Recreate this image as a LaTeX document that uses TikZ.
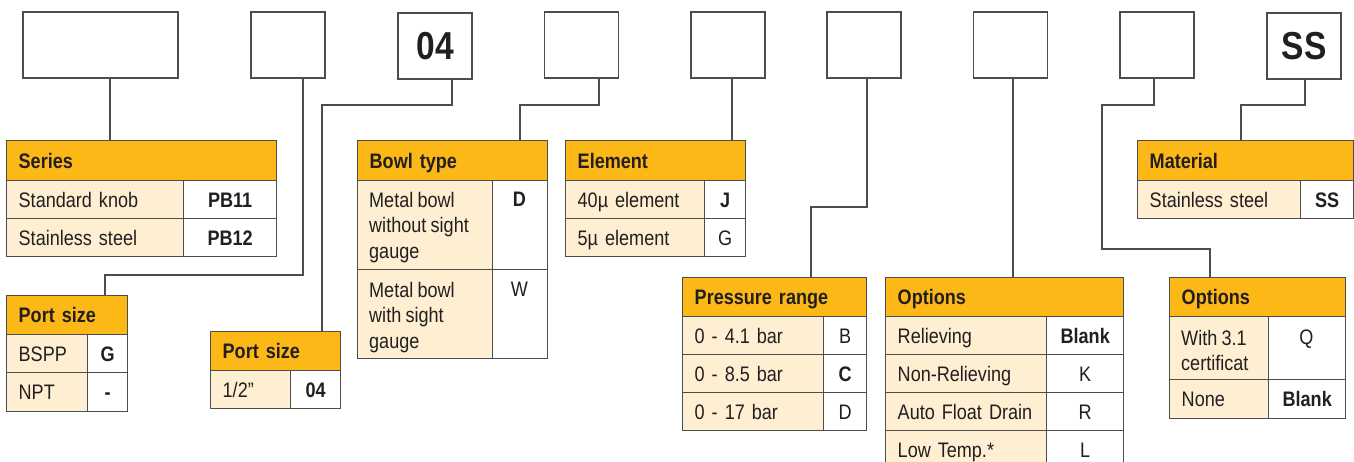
\documentclass[tikz,border=0pt]{standalone}
\usepackage{fontspec}
\setmainfont[FakeStretch=0.86,WordSpace=0.85]{Liberation Sans}
\definecolor{hdr}{HTML}{FBB817}
\definecolor{crm}{HTML}{FEEFD3}
\definecolor{ln}{HTML}{4D4D4D}
\definecolor{txt}{HTML}{231F20}
\tikzset{
  cellbase/.style={draw=ln, line width=1.4pt, inner sep=0pt, anchor=north west, text=txt, font=\fontsize{21}{25.5}\selectfont},
  topbox/.style={draw=ln, line width=1.5pt, minimum width=74pt, minimum height=66pt, inner sep=0pt, text=txt, font=\bfseries\fontsize{39}{40}\selectfont},
  hd/.style={cellbase, fill=hdr, font=\bfseries\fontsize{21}{25.5}\selectfont, align=left, inner xsep=12pt, text height=15pt, text depth=0pt},
  lb/.style={cellbase, fill=crm, align=left, inner xsep=12pt, text height=15pt, text depth=0pt},
  cd/.style={cellbase, fill=white, align=center, text height=15pt, text depth=0pt},
  mltext/.style={anchor=north west, inner sep=0pt, align=left, text=txt, font=\fontsize{21}{25.5}\selectfont},
  toptext/.style={anchor=north, inner sep=0pt, text=txt, font=\fontsize{21}{25.5}\selectfont},
  conn/.style={draw=ln, line width=1.5pt},
}
\begin{document}
\begin{tikzpicture}[x=1pt,y=-1pt]
\path[use as bounding box] (0,0) rectangle (1354,461);
\clip (0,0) rectangle (1354,461);

% top code boxes
\node[topbox, minimum width=155pt] (b1) at (100.5,45) {};
\node[topbox] (b2) at (288,45) {};
\node[topbox] (b3) at (435,46) {04};
\node[topbox] (b4) at (581.5,45) {};
\node[topbox] (b5) at (728,45) {};
\node[topbox] (b6) at (864,45) {};
\node[topbox] (b7) at (1010.5,45) {};
\node[topbox] (b8) at (1157,45) {};
\node[topbox] (b9) at (1304,46) {SS};

% Series
\node[hd, minimum width=270pt, minimum height=40pt, text width=246pt] (t1h) at (6,140) {Series};
\node[lb, minimum width=177pt, minimum height=38pt, text width=153pt] (t1l1) at (6,180) {Standard knob};
\node[cd, minimum width=93pt, minimum height=38pt] (t1c1) at (183,180) {\bfseries PB11};
\node[lb, minimum width=177pt, minimum height=38pt, text width=153pt] (t1l2) at (6,218) {Stainless steel};
\node[cd, minimum width=93pt, minimum height=38pt] (t1c2) at (183,218) {\bfseries PB12};

% Port size 1
\node[hd, minimum width=121pt, minimum height=39pt, text width=97pt] (t2h) at (6,295) {Port size};
\node[lb, minimum width=81pt, minimum height=38pt, text width=57pt] (t2l1) at (6,334) {BSPP};
\node[cd, minimum width=40pt, minimum height=38pt] (t2c1) at (87,334) {\bfseries G};
\node[lb, minimum width=81pt, minimum height=39pt, text width=57pt] (t2l2) at (6,372) {NPT};
\node[cd, minimum width=40pt, minimum height=39pt] (t2c2) at (87,372) {\bfseries -};

% Port size 2
\node[hd, minimum width=130pt, minimum height=39pt, text width=106pt] (t3h) at (210,331) {Port size};
\node[lb, minimum width=80pt, minimum height=38pt, text width=56pt] (t3l1) at (210,370) {1/2{\char34}};
\node[cd, minimum width=50pt, minimum height=38pt] (t3c1) at (290,370) {\bfseries 04};

% Bowl type
\node[hd, minimum width=190pt, minimum height=40pt, text width=166pt] (t4h) at (357,140) {Bowl type};
\node[lb, minimum width=135pt, minimum height=89pt] (t4l1) at (357,180) {};
\node[cd, minimum width=55pt, minimum height=89pt] (t4c1) at (492,180) {};
\node[lb, minimum width=135pt, minimum height=89pt] (t4l2) at (357,269) {};
\node[cd, minimum width=55pt, minimum height=89pt] (t4c2) at (492,269) {};
\node[mltext] (t4x1) at (369,192) {Metal bowl\\without sight\\gauge};
\node[toptext] (t4y1) at (519.5,192) {\bfseries D};
\node[mltext] (t4x2) at (369,282) {Metal bowl\\with sight\\gauge};
\node[toptext] (t4y2) at (519.5,282) {W};

% Element
\node[hd, minimum width=180pt, minimum height=40pt, text width=156pt] (t5h) at (565,140) {Element};
\node[lb, minimum width=139pt, minimum height=38pt, text width=115pt] (t5l1) at (565,180) {40µ element};
\node[cd, minimum width=41pt, minimum height=38pt] (t5c1) at (704,180) {\bfseries J};
\node[lb, minimum width=139pt, minimum height=38pt, text width=115pt] (t5l2) at (565,218) {5µ element};
\node[cd, minimum width=41pt, minimum height=38pt] (t5c2) at (704,218) {G};

% Pressure range
\node[hd, minimum width=184pt, minimum height=39pt, text width=160pt] (t6h) at (682,277) {Pressure range};
\node[lb, minimum width=141pt, minimum height=38pt, text width=117pt] (t6l1) at (682,316) {0 - 4.1 bar};
\node[cd, minimum width=43pt, minimum height=38pt] (t6c1) at (823,316) {B};
\node[lb, minimum width=141pt, minimum height=38pt, text width=117pt] (t6l2) at (682,354) {0 - 8.5 bar};
\node[cd, minimum width=43pt, minimum height=38pt] (t6c2) at (823,354) {\bfseries C};
\node[lb, minimum width=141pt, minimum height=38pt, text width=117pt] (t6l3) at (682,392) {0 - 17 bar};
\node[cd, minimum width=43pt, minimum height=38pt] (t6c3) at (823,392) {D};

% Options
\node[hd, minimum width=238pt, minimum height=39pt, text width=214pt] (t7h) at (885,277) {Options};
\node[lb, minimum width=161pt, minimum height=38pt, text width=137pt] (t7l1) at (885,316) {Relieving};
\node[cd, minimum width=77pt, minimum height=38pt] (t7c1) at (1046,316) {\bfseries Blank};
\node[lb, minimum width=161pt, minimum height=38pt, text width=137pt] (t7l2) at (885,354) {Non-Relieving};
\node[cd, minimum width=77pt, minimum height=38pt] (t7c2) at (1046,354) {K};
\node[lb, minimum width=161pt, minimum height=38pt, text width=137pt] (t7l3) at (885,392) {Auto Float Drain};
\node[cd, minimum width=77pt, minimum height=38pt] (t7c3) at (1046,392) {R};
\node[lb, minimum width=161pt, minimum height=38pt, text width=137pt] (t7l4) at (885,430) {Low Temp.*};
\node[cd, minimum width=77pt, minimum height=38pt] (t7c4) at (1046,430) {L};

% Options 2
\node[hd, minimum width=176pt, minimum height=39pt, text width=152pt] (t8h) at (1169,277) {Options};
\node[lb, minimum width=99pt, minimum height=63pt] (t8l1) at (1169,316) {};
\node[cd, minimum width=77pt, minimum height=63pt] (t8c1) at (1268,316) {};
\node[mltext] (t8x1) at (1181,330) {With 3.1\\certificat};
\node[toptext] (t8y1) at (1306.5,330) {Q};
\node[lb, minimum width=99pt, minimum height=39pt, text width=75pt] (t8l2) at (1169,379) {None};
\node[cd, minimum width=77pt, minimum height=39pt] (t8c2) at (1268,379) {\bfseries Blank};

% Material
\node[hd, minimum width=216pt, minimum height=40pt, text width=192pt] (t9h) at (1137,140) {Material};
\node[lb, minimum width=163pt, minimum height=38pt, text width=139pt] (t9l1) at (1137,180) {Stainless steel};
\node[cd, minimum width=53pt, minimum height=38pt] (t9c1) at (1300,180) {\bfseries SS};

% connector bend points
\coordinate (k1) at (110,0);
\coordinate (k2a) at (303,275);
\coordinate (k2b) at (105,275);
\coordinate (k3a) at (452,105);
\coordinate (k3b) at (322,105);
\coordinate (k4a) at (599,105);
\coordinate (k4b) at (520,105);
\coordinate (k5) at (732,0);
\coordinate (k6a) at (867,207);
\coordinate (k6b) at (811,207);
\coordinate (k7) at (1013,0);
\coordinate (k8a) at (1154,105);
\coordinate (k8b) at (1102,105);
\coordinate (k8c) at (1102,249);
\coordinate (k8d) at (1210,249);
\coordinate (k9a) at (1305,105);
\coordinate (k9b) at (1241,105);

% connectors
\draw[conn] (b1.south -| k1) -- (t1h.north -| k1);
\draw[conn] (b2.south -| k2a) -- (k2a) -- (k2b) -- (t2h.north -| k2b);
\draw[conn] (b3.south -| k3a) -- (k3a) -- (k3b) -- (t3h.north -| k3b);
\draw[conn] (b4.south -| k4a) -- (k4a) -- (k4b) -- (t4h.north -| k4b);
\draw[conn] (b5.south -| k5) -- (t5h.north -| k5);
\draw[conn] (b6.south -| k6a) -- (k6a) -- (k6b) -- (t6h.north -| k6b);
\draw[conn] (b7.south -| k7) -- (t7h.north -| k7);
\draw[conn] (b8.south -| k8a) -- (k8a) -- (k8b) -- (k8c) -- (k8d) -- (t8h.north -| k8d);
\draw[conn] (b9.south -| k9a) -- (k9a) -- (k9b) -- (t9h.north -| k9b);
\end{tikzpicture}
\end{document}
